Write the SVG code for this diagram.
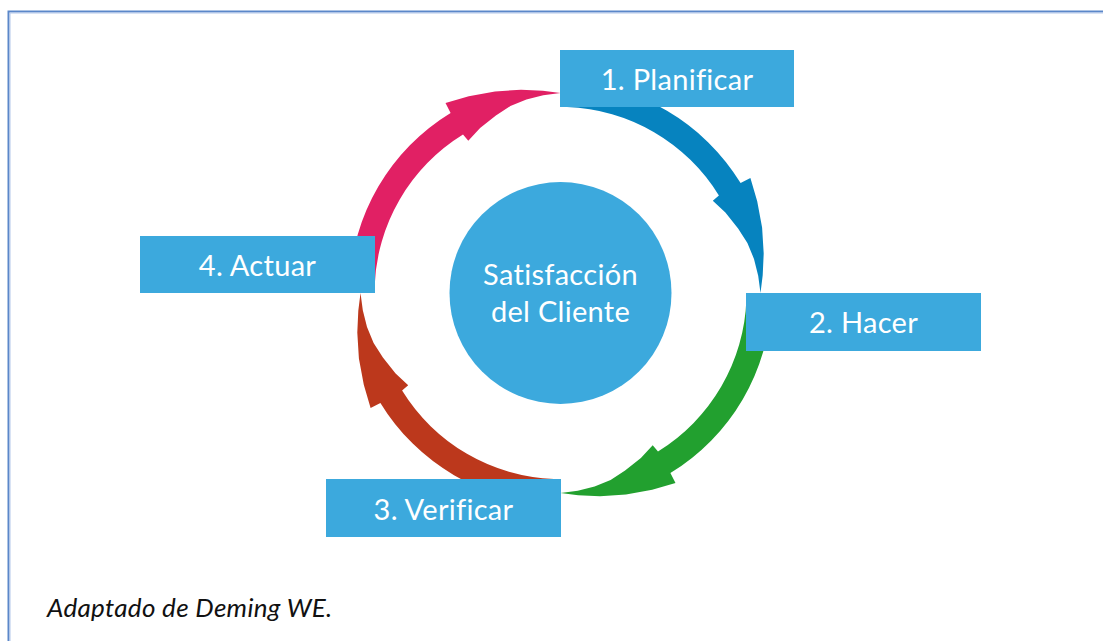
<svg xmlns="http://www.w3.org/2000/svg" width="1103" height="641" viewBox="0 0 1103 641">
  <defs>
    <style>
      .box { fill: #3ca9dd; }
      .lbl { font-family: Lato, "Open Sans", "Liberation Sans", sans-serif; font-size: 29px; fill: #ffffff; text-anchor: middle; font-variant-ligatures: none; letter-spacing: 0.3px; }
      .cap { font-family: Lato, "Open Sans", "Liberation Sans", sans-serif; font-size: 26px; font-style: italic; fill: #111111; font-variant-ligatures: none; letter-spacing: 0.3px; }
    </style>
    <path id="arrowShape" d="M 567.9 82.1 A 211 211 0 0 1 740.6 183.1 L 750.4 178.0 L 757.2 201.3 L 762.1 227.5 L 763.7 253.5 L 762.7 275.3 L 760.5 293 L 758.2 275.7 L 754.0 258.9 L 747.4 242.9 L 738.1 228.4 L 725.4 212.6 L 712.8 200.8 L 718.9 195.5 A 186 186 0 0 0 567.0 107.1 Z"/>
  </defs>
  <rect width="1103" height="641" fill="#ffffff"/>
  <rect x="8.5" y="11.5" width="1120" height="660" fill="none" stroke="#5b87c9" stroke-width="2"/>
  <rect x="10" y="13" width="1120" height="660" fill="none" stroke="#b4c8ea" stroke-width="1"/>

  <g id="connectors">
    <use href="#arrowShape" fill="#0683bf"/>
    <use href="#arrowShape" fill="#22a02f" transform="rotate(90 560.5 293)"/>
    <use href="#arrowShape" fill="#bc381c" transform="rotate(180 560.5 293)"/>
    <use href="#arrowShape" fill="#e12064" transform="rotate(270 560.5 293)"/>
  </g>

  <g id="center">
    <circle cx="560.5" cy="293" r="111" fill="#3ca9dd"/>
    <text class="lbl" x="560.5" y="285">Satisfacción</text>
    <text class="lbl" x="560.5" y="322">del Cliente</text>
  </g>

  <g id="planificar">
    <rect class="box" x="560" y="50" width="234" height="57"/>
    <text class="lbl" x="677" y="90">1. Planificar</text>
  </g>
  <g id="hacer">
    <rect class="box" x="746" y="293" width="235" height="58"/>
    <text class="lbl" x="863.5" y="333">2. Hacer</text>
  </g>
  <g id="verificar">
    <rect class="box" x="326" y="479" width="235" height="58"/>
    <text class="lbl" x="443.5" y="520">3. Verificar</text>
  </g>
  <g id="actuar">
    <rect class="box" x="140" y="236" width="235" height="57"/>
    <text class="lbl" x="257.5" y="276">4. Actuar</text>
  </g>

  <g id="caption">
    <text class="cap" x="47" y="617">Adaptado de Deming WE.</text>
  </g>
</svg>
